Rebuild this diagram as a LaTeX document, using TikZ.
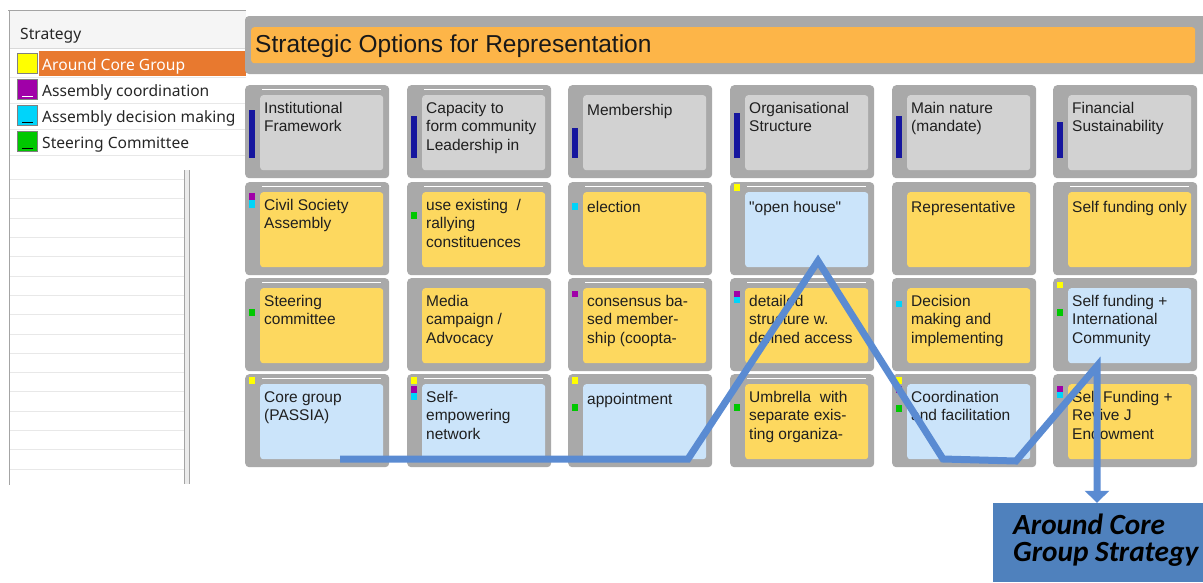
\documentclass[tikz,border=0pt]{standalone}
\usepackage{fontspec}
\setmainfont{Liberation Sans}
\newfontfamily\legendfont{Noto Sans}
\newfontfamily\bannerfont{Carlito}
\usepackage{tikz}
\usetikzlibrary{arrows.meta}

\definecolor{cellgray}{HTML}{A9A9A9}
\definecolor{hdrgray}{HTML}{D2D2D2}
\definecolor{optyellow}{HTML}{FDD85F}
\definecolor{optblue}{HTML}{CBE4FA}
\definecolor{titleorange}{HTML}{FDB548}
\definecolor{selorange}{HTML}{E8792F}
\definecolor{routeblue}{HTML}{5A8BD2}
\definecolor{boxblue}{HTML}{4F81BD}
\definecolor{barblue}{HTML}{16169E}
\definecolor{mkyellow}{HTML}{FFFF00}
\definecolor{mkpurple}{HTML}{A000A8}
\definecolor{mkcyan}{HTML}{00D4FA}
\definecolor{mkgreen}{HTML}{00C800}
\definecolor{gridline}{HTML}{E8E8E8}
\definecolor{framegray}{HTML}{A4A4A4}

\begin{document}
\begin{tikzpicture}[x=1pt,y=-1pt]
\tikzstyle{every node}+=[inner sep=0pt]
\tikzstyle{cellbox}=[anchor=north west, fill=cellgray, rounded corners=4pt, minimum width=144pt, minimum height=93pt]
\tikzstyle{card}=[anchor=north west, rounded corners=3pt, minimum width=123pt, minimum height=75pt]
\tikzstyle{hdr}=[card, fill=hdrgray]
\tikzstyle{ylw}=[card, fill=optyellow]
\tikzstyle{blu}=[card, fill=optblue]
\tikzstyle{cardtext}=[anchor=north west, align=left, text=black!88, font=\fontsize{15.5}{18.3}\selectfont, execute at begin node=\strut]
\tikzstyle{legend}=[anchor=base west, font=\legendfont\fontsize{15.6}{18}\selectfont, text=black!85]
\tikzstyle{swatch}=[draw=black!50, line width=0.8pt]
\tikzstyle{topline}=[white, line width=1.3pt]
\tikzstyle{route}=[draw=routeblue, line width=7pt, -{Triangle[width=24pt,length=12pt]}]
\useasboundingbox (0,0) rectangle (1203,582);

\draw[framegray] (8,10) -- (246,10);
\draw[framegray] (9,10) -- (9,485);
\fill[black!4] (10,11) rectangle (246,48);
\draw[black!15] (10,48.5) -- (246,48.5);
\node[legend] (legHead) at (20,39.5) {Strategy};
\fill[selorange] (39,51) rectangle (246,76);
\foreach \y in {77,103,129,155}
  \draw[gridline] (10,\y) -- (246,\y);
\filldraw[swatch, fill=mkyellow] (17,53) rectangle (37,73);
\filldraw[swatch, fill=mkpurple] (17,79) rectangle (37,99);
\filldraw[swatch, fill=mkcyan] (17,105) rectangle (37,125);
\filldraw[swatch, fill=mkgreen] (17,131) rectangle (37,151);
\draw[white, line width=1pt] (22,96) -- (33,96);
\draw[black, line width=1pt] (22,122) -- (33,122);
\draw[black, line width=1pt] (22,148) -- (33,148);
\node[legend, text=white] (legCore) at (42,70.5) {Around Core Group};
\node[legend] (legCoord) at (42,96.5) {Assembly coordination};
\node[legend] (legDecision) at (42,122.5) {Assembly decision making};
\node[legend] (legSteering) at (42,148.5) {Steering Committee};
\foreach \i in {0,...,15}
  \draw[gridline] (10,179.3+19.3*\i) -- (184,179.3+19.3*\i);
\fill[black!8] (184,170) rectangle (190,484);
\draw[framegray] (184.5,170) -- (184.5,484);
\draw[framegray] (189.5,170) -- (189.5,484);

\fill[cellgray, rounded corners=4pt] (245,16) rectangle (1210,74);
\node[anchor=north west, fill=titleorange, rounded corners=3pt, minimum width=944pt, minimum height=36pt] (titlebar) at (251,27) {};
\node[anchor=base west, font=\fontsize{24.5}{28}\selectfont, text=black!90] (title) at (255,52.5) {Strategic Options for Representation};

\foreach \c/\x in {1/245,2/407,3/568,4/730,5/892,6/1053}
  \foreach \r/\y in {1/85,2/182,3/278,4/374}
    \node[cellbox] (cell\c\r) at (\x,\y) {};
\foreach \n in {11,21,12,22,32,42,62,13,33,43,14,24,44}
  \draw[topline] ([xshift=17pt,yshift=-4.5pt]cell\n.north west) -- ([xshift=-8pt,yshift=-4.5pt]cell\n.north east);

\node[hdr] (card11) at ([xshift=15pt,yshift=-10pt]cell11.north west) {};
\node[cardtext] (text11) at ([xshift=4pt,yshift=-7pt]card11.north west) {Institutional\\Framework};
\node[hdr] (card21) at ([xshift=15pt,yshift=-10pt]cell21.north west) {};
\node[cardtext] (text21) at ([xshift=4pt,yshift=-7pt]card21.north west) {Capacity to\\form community\\Leadership in};
\node[hdr] (card31) at ([xshift=15pt,yshift=-10pt]cell31.north west) {};
\node[cardtext] (text31) at ([xshift=4pt,yshift=-7pt]card31.north west) {Membership};
\node[hdr] (card41) at ([xshift=15pt,yshift=-10pt]cell41.north west) {};
\node[cardtext] (text41) at ([xshift=4pt,yshift=-7pt]card41.north west) {Organisational\\Structure};
\node[hdr] (card51) at ([xshift=15pt,yshift=-10pt]cell51.north west) {};
\node[cardtext] (text51) at ([xshift=4pt,yshift=-7pt]card51.north west) {Main nature\\(mandate)};
\node[hdr] (card61) at ([xshift=15pt,yshift=-10pt]cell61.north west) {};
\node[cardtext] (text61) at ([xshift=4pt,yshift=-7pt]card61.north west) {Financial\\Sustainability};

\node[ylw] (card12) at ([xshift=15pt,yshift=-10pt]cell12.north west) {};
\node[cardtext] (text12) at ([xshift=4pt,yshift=-7pt]card12.north west) {Civil Society\\Assembly};
\node[ylw] (card22) at ([xshift=15pt,yshift=-10pt]cell22.north west) {};
\node[cardtext] (text22) at ([xshift=4pt,yshift=-7pt]card22.north west) {use existing\ \ /\\rallying\\constituences};
\node[ylw] (card32) at ([xshift=15pt,yshift=-10pt]cell32.north west) {};
\node[cardtext] (text32) at ([xshift=4pt,yshift=-7pt]card32.north west) {election};
\node[blu] (card42) at ([xshift=15pt,yshift=-10pt]cell42.north west) {};
\node[cardtext] (text42) at ([xshift=4pt,yshift=-7pt]card42.north west) {\textquotedbl open house\textquotedbl};
\node[ylw] (card52) at ([xshift=15pt,yshift=-10pt]cell52.north west) {};
\node[cardtext] (text52) at ([xshift=4pt,yshift=-7pt]card52.north west) {Representative};
\node[ylw] (card62) at ([xshift=15pt,yshift=-10pt]cell62.north west) {};
\node[cardtext] (text62) at ([xshift=4pt,yshift=-7pt]card62.north west) {Self funding only};

\node[ylw] (card13) at ([xshift=15pt,yshift=-10pt]cell13.north west) {};
\node[cardtext] (text13) at ([xshift=4pt,yshift=-7pt]card13.north west) {Steering\\committee};
\node[ylw] (card23) at ([xshift=15pt,yshift=-10pt]cell23.north west) {};
\node[cardtext] (text23) at ([xshift=4pt,yshift=-7pt]card23.north west) {Media\\campaign /\\Advocacy};
\node[ylw] (card33) at ([xshift=15pt,yshift=-10pt]cell33.north west) {};
\node[cardtext] (text33) at ([xshift=4pt,yshift=-7pt]card33.north west) {consensus ba-\\sed member-\\ship (coopta-};
\node[ylw] (card43) at ([xshift=15pt,yshift=-10pt]cell43.north west) {};
\node[cardtext] (text43) at ([xshift=4pt,yshift=-7pt]card43.north west) {detailed\\structure w.\\defined access};
\node[ylw] (card53) at ([xshift=15pt,yshift=-10pt]cell53.north west) {};
\node[cardtext] (text53) at ([xshift=4pt,yshift=-7pt]card53.north west) {Decision\\making and\\implementing};
\node[blu] (card63) at ([xshift=15pt,yshift=-10pt]cell63.north west) {};
\node[cardtext] (text63) at ([xshift=4pt,yshift=-7pt]card63.north west) {Self funding +\\International\\Community};

\node[blu] (card14) at ([xshift=15pt,yshift=-10pt]cell14.north west) {};
\node[cardtext] (text14) at ([xshift=4pt,yshift=-7pt]card14.north west) {Core group\\(PASSIA)};
\node[blu] (card24) at ([xshift=15pt,yshift=-10pt]cell24.north west) {};
\node[cardtext] (text24) at ([xshift=4pt,yshift=-7pt]card24.north west) {Self-\\empowering\\network};
\node[blu] (card34) at ([xshift=15pt,yshift=-10pt]cell34.north west) {};
\node[cardtext] (text34) at ([xshift=4pt,yshift=-7pt]card34.north west) {appointment};
\node[ylw] (card44) at ([xshift=15pt,yshift=-10pt]cell44.north west) {};
\node[cardtext] (text44) at ([xshift=4pt,yshift=-7pt]card44.north west) {Umbrella\ \ with\\separate exis-\\ting organiza-};
\node[blu] (card54) at ([xshift=15pt,yshift=-10pt]cell54.north west) {};
\node[cardtext] (text54) at ([xshift=4pt,yshift=-7pt]card54.north west) {Coordination\\and facilitation};
\node[ylw] (card64) at ([xshift=15pt,yshift=-10pt]cell64.north west) {};
\node[cardtext] (text64) at ([xshift=4pt,yshift=-7pt]card64.north west) {Self Funding +\\Revive J\\Endowment};

\fill[barblue] (249,110) rectangle (255,158);
\fill[barblue] (411,116) rectangle (417,158);
\fill[barblue] (572,128) rectangle (578,158);
\fill[barblue] (734,113) rectangle (740,158);
\fill[barblue] (896,116) rectangle (902,158);
\fill[barblue] (1057,122) rectangle (1063,158);

\fill[mkpurple] (249,193) rectangle ++(6,7);
\fill[mkcyan] (249,200) rectangle ++(6,8);
\fill[mkgreen] (411,212) rectangle ++(6,7);
\fill[mkcyan] (572,203) rectangle ++(6,7);
\fill[mkyellow] (734,184) rectangle ++(6,7);
\fill[mkgreen] (249,309) rectangle ++(6,7);
\fill[mkpurple] (572,291) rectangle ++(6,6);
\fill[mkpurple] (734,291) rectangle ++(6,6);
\fill[mkcyan] (734,297) rectangle ++(6,6);
\fill[mkcyan] (896,301) rectangle ++(6,6);
\fill[mkyellow] (1057,282) rectangle ++(6,6);
\fill[mkgreen] (1057,309) rectangle ++(6,7);
\fill[mkyellow] (249,377) rectangle ++(6,7);
\fill[mkyellow] (411,377) rectangle ++(6,7);
\fill[mkpurple] (411,386) rectangle ++(6,7);
\fill[mkcyan] (411,393) rectangle ++(6,7);
\fill[mkyellow] (572,377) rectangle ++(6,7);
\fill[mkgreen] (572,404) rectangle ++(6,7);
\fill[mkgreen] (734,404) rectangle ++(6,7);
\fill[mkyellow] (896,377) rectangle ++(6,7);
\fill[mkpurple] (896,386) rectangle ++(6,7);
\fill[mkgreen] (896,405) rectangle ++(6,7);
\fill[mkpurple] (1057,386) rectangle ++(6,6);
\fill[mkcyan] (1057,392) rectangle ++(6,6);

\node[fill=boxblue, minimum width=210pt, minimum height=79pt] (result) at (1098,542.5) {};
\node[anchor=north west, align=left, font=\bannerfont\bfseries\itshape\fontsize{29.3}{27}\selectfont, execute at begin node=\strut] (resultText) at (1013,513.5) {Around Core\\Group Strategy};

\coordinate (pcore) at (340,459);
\coordinate (pappoint) at (688,459);
\coordinate (popen) at (818,261);
\coordinate (pcoordA) at (943,459);
\coordinate (pcoordB) at (1016,461);
\coordinate (pintl) at (1097,366);
\draw[route] (pcore) -- (pappoint) -- (popen) -- (pcoordA) -- (pcoordB) -- (pintl) -- (pintl |- result.north);
\end{tikzpicture}
\end{document}
